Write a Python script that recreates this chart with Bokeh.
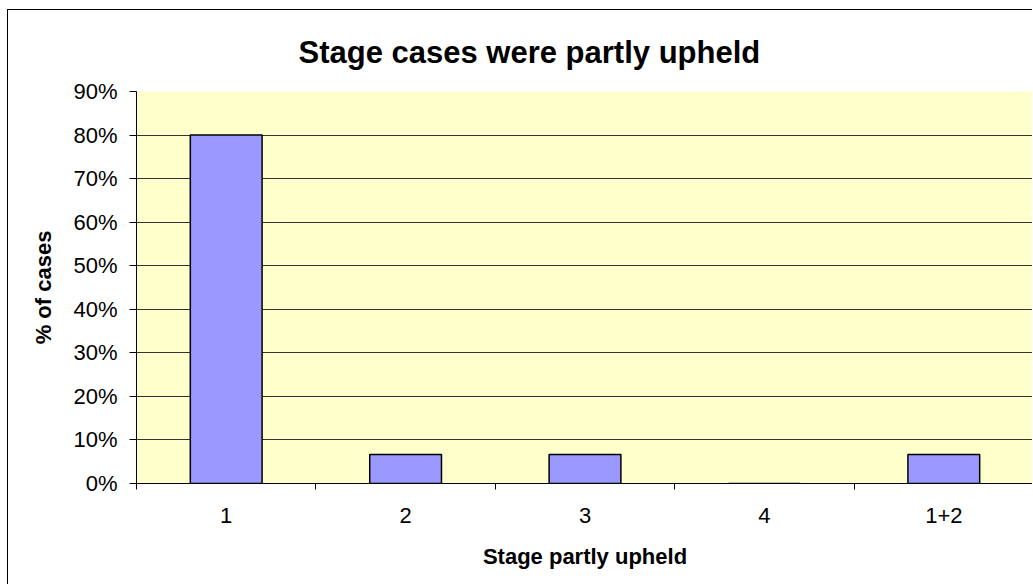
import numpy as np
from bokeh.plotting import figure
from bokeh.models import (ColumnDataSource, FixedTicker, NumeralTickFormatter,
                          Range1d)
from bokeh.embed import file_html
from bokeh.resources import INLINE

# ---- data ----
categories = ["1", "2", "3", "4", "1+2"]
pct_cases = [0.80, 0.0667, 0.0667, 0.0, 0.0667]
y_ticks = [0.0, 0.1, 0.2, 0.3, 0.4, 0.5, 0.6, 0.7, 0.8, 0.9]

title_text = "Stage cases were partly upheld"
x_title = "Stage partly upheld"
y_title = "% of cases"

FONT = "Liberation Sans"

n = len(categories)
centers = np.arange(n) + 0.5
src = ColumnDataSource(dict(x=centers, top=pct_cases, cat=categories))

p = figure(width=1025, height=575, output_backend="svg", toolbar_location=None,
           x_range=Range1d(0, n), y_range=Range1d(0, 0.9),
           min_border_left=128, min_border_right=0, min_border_top=81,
           min_border_bottom=102)

p.background_fill_color = "#FFFFCC"
p.border_fill_color = "white"
p.outline_line_color = None

p.vbar(x="x", top="top", width=0.4, source=src, fill_color="#9999FF",
       line_color="black", line_width=1.5)

# grid
p.xgrid.grid_line_color = None
p.ygrid.grid_line_color = "#333333"
p.ygrid.grid_line_width = 1
p.ygrid.ticker = FixedTicker(ticks=y_ticks)

# y axis
yax = p.yaxis[0]
yax.ticker = FixedTicker(ticks=y_ticks)
yax.formatter = NumeralTickFormatter(format="0%")
yax.major_label_text_font = FONT
yax.major_label_text_font_size = "22px"
yax.major_label_text_color = "black"
yax.major_tick_out = 7
yax.major_tick_in = 0
yax.minor_tick_out = 0
yax.minor_tick_in = 0
yax.major_tick_line_color = "black"
yax.axis_line_color = "black"
yax.major_label_standoff = 12
yax.axis_label = y_title
yax.axis_label_text_font = FONT
yax.axis_label_text_font_style = "bold"
yax.axis_label_text_font_size = "22px"
yax.axis_label_text_color = "black"
yax.axis_label_standoff = 14

# x axis: labels at category centers, ticks at boundaries
xax = p.xaxis[0]
xax.ticker = FixedTicker(ticks=list(centers), minor_ticks=list(np.arange(n + 1)))
xax.major_label_overrides = {float(c): cat for c, cat in zip(centers, categories)}
xax.major_tick_out = 0
xax.major_tick_in = 0
xax.minor_tick_out = 6
xax.minor_tick_in = 0
xax.minor_tick_line_color = "black"
xax.axis_line_color = "black"
xax.major_label_text_font = FONT
xax.major_label_text_font_size = "22px"
xax.major_label_text_color = "black"
xax.major_label_standoff = 18
xax.axis_label = x_title
xax.axis_label_text_font = FONT
xax.axis_label_text_font_style = "bold"
xax.axis_label_text_font_size = "22px"
xax.axis_label_text_color = "black"
xax.axis_label_standoff = 18

# chart title
p.title.text = title_text
p.title.text_font = FONT
p.title.text_font_style = "bold"
p.title.text_font_size = "31px"
p.title.text_color = "black"
p.title.align = "left"
p.title.offset = 162
p.title.standoff = 43

p.styles = {"margin-left": "7px", "margin-top": "9px",
            "border-left": "1px solid black", "border-top": "1px solid black"}

open("out.html", "w").write(file_html(p, INLINE))
